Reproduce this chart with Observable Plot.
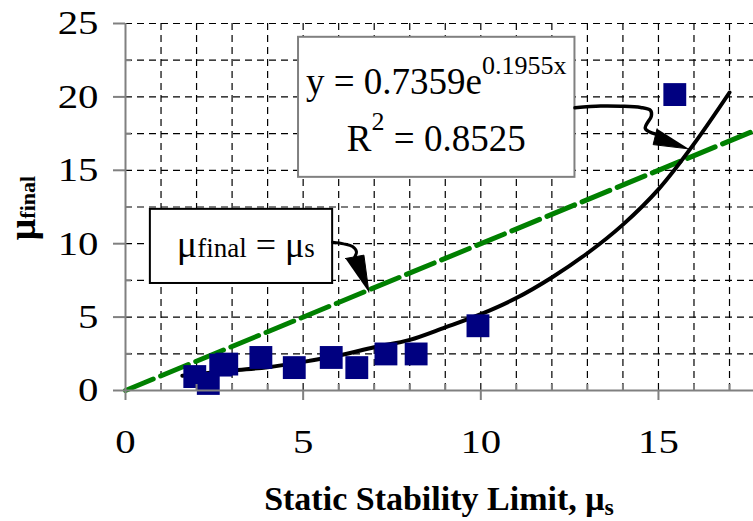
<!DOCTYPE html>
<html><head><meta charset="utf-8">
<script src="https://cdn.jsdelivr.net/npm/d3@7"></script>
<script src="https://cdn.jsdelivr.net/npm/@observablehq/plot@0.6"></script>
<style>
body{margin:0;background:#fff;}
#chart svg{display:block;background:#fff;}
</style></head><body><div id="chart"></div>
<script>
// ---- data ----
const pointsX = [1.95, 2.33, 2.68, 2.85, 3.81, 4.75, 5.79, 6.51, 7.33, 8.18, 9.92, 15.46];
const pointsY = [0.95, 0.48, 1.73, 1.80, 2.25, 1.56, 2.25, 1.56, 2.49, 2.49, 4.41, 20.16];
const trendX = [1.6, 2, 3, 4, 5, 6, 7, 8, 9, 10, 11, 12, 13, 14, 15, 16, 17];
const trendY = [1.0, 1.1, 1.36, 1.59, 1.95, 2.38, 2.95, 3.45, 4.3, 5.2, 6.3, 7.7, 9.35, 11.3, 13.7, 16.8, 20.3];
const identityX = [0, 17.68];
const identityY = [0, 17.68];
const xMajor = [0, 5, 10, 15];
const xMinor = [1, 2, 3, 4, 6, 7, 8, 9, 11, 12, 13, 14, 16, 17];
const xGrid = [1, 2, 3, 4, 5, 6, 7, 8, 9, 10, 11, 12, 13, 14, 15, 16, 17];
const yMajor = [0, 5, 10, 15, 20, 25];
const yMinor = [2.5, 7.5, 12.5, 17.5, 22.5];
const yGrid = [2.5, 5, 7.5, 10, 12.5, 15, 17.5, 20, 22.5, 25];
const xDomain = [0, 17.675];
const yDomain = [0, 25];

// annotations (data units)
const eqBox = {x1: 4.87, x2: 12.65, y1: 14.52, y2: 24.06};
const idBox = {x1: 0.70, x2: 5.83, y1: 7.29, y2: 12.34};
const eqLine1 = "y = 0.7359e", eqSup = "0.1955x";
const eqLine2a = "R", eqLine2sup = "2", eqLine2b = " = 0.8525";
const eqTextX = 8.76, eqTextY1 = 20.16, eqTextY2 = 16.28;
const idTextX = 3.40, idTextY = 9.06;
const arrow1X = [12.65, 13.37, 13.93, 14.50, 14.78, 14.80, 14.63, 14.95];
const arrow1Y = [19.26, 19.38, 19.37, 19.28, 19.07, 18.70, 17.85, 17.45];
const head1X = [14.96, 14.85, 15.85];
const head1Y = [17.83, 16.75, 16.46];
const arrow2X = [5.83, 6.14, 6.39, 6.50, 6.45];
const arrow2Y = [10.10, 9.99, 9.81, 9.45, 9.10];
const head2X = [6.19, 6.71, 6.85];
const head2Y = [8.99, 9.22, 6.70];

const serif = "'Liberation Serif','Times New Roman',serif";
const zip = (xs, ys) => xs.map((x, i) => ({x, y: ys[i]}));

const axisColor = "#808080";
const chart = Plot.plot({
  width: 753, height: 521,
  marginLeft: 125, marginRight: 0, marginTop: 23, marginBottom: 131,
  x: {domain: xDomain},
  y: {domain: yDomain},
  style: {fontFamily: serif, background: "white", color: "black"},
  marks: [
    Plot.gridX(xGrid, {stroke: "#000", strokeOpacity: 1, strokeWidth: 1.2, strokeDasharray: "7,5"}),
    Plot.gridY(yGrid, {stroke: "#000", strokeOpacity: 1, strokeWidth: 1.2, strokeDasharray: "7,5"}),
    Plot.line(zip(identityX, identityY), {x: "x", y: "y", stroke: "#008000", strokeWidth: 5, strokeDasharray: "30,8"}),
    Plot.line(zip(trendX, trendY), {x: "x", y: "y", stroke: "black", strokeWidth: 4, curve: "catmull-rom"}),
    Plot.dot(zip(pointsX, pointsY), {x: "x", y: "y", symbol: "square", r: 12.9, fill: "#000080", stroke: null}),
    Plot.rect([eqBox], {x1: "x1", x2: "x2", y1: "y1", y2: "y2", fill: "white", stroke: "#808080", strokeWidth: 2}),
    Plot.rect([idBox], {x1: "x1", x2: "x2", y1: "y1", y2: "y2", fill: "white", stroke: "black", strokeWidth: 2}),
    Plot.line(zip(arrow1X, arrow1Y), {x: "x", y: "y", stroke: "black", strokeWidth: 3.5, curve: "catmull-rom"}),
    Plot.line(zip(head1X, head1Y), {x: "x", y: "y", fill: "black", stroke: "black", strokeWidth: 1}),
    Plot.line(zip(arrow2X, arrow2Y), {x: "x", y: "y", stroke: "black", strokeWidth: 3, curve: "catmull-rom"}),
    Plot.line(zip(head2X, head2Y), {x: "x", y: "y", fill: "black", stroke: "black", strokeWidth: 1}),
    Plot.ruleX([0], {stroke: axisColor, strokeWidth: 2}),
    Plot.ruleY([0], {stroke: axisColor, strokeWidth: 2}),
    Plot.axisX(xMajor, {tickSize: 10, tickPadding: 28, fontSize: 34, stroke: axisColor, strokeWidth: 2, fill: "black", label: null}),
    Plot.axisX(xMinor, {tickSize: 6, dy: -6, tickFormat: () => "", stroke: axisColor, strokeWidth: 2, label: null}),
    Plot.axisY(yMajor, {tickSize: 12, tickPadding: 15, fontSize: 34, stroke: axisColor, strokeWidth: 2, fill: "black", label: null}),
    Plot.axisY(yMinor, {tickSize: 6, dx: 6, tickFormat: () => "", stroke: axisColor, strokeWidth: 2, label: null})
  ]
});
document.getElementById("chart").appendChild(chart);

const svg = d3.select(chart);
const sx = chart.scale("x"), sy = chart.scale("y");

// widen tick labels like the reference
svg.selectAll('g[aria-label="x-axis tick label"] text, g[aria-label="y-axis tick label"] text').each(function() {
  const L = this.getComputedTextLength();
  if (L > 0) { this.setAttribute("textLength", L * 1.2); this.setAttribute("lengthAdjust", "spacingAndGlyphs"); }
});

function rich(x, y, anchor, parts, transform) {
  const t = svg.append("text").attr("x", x).attr("y", y).attr("text-anchor", anchor)
    .attr("font-family", serif).attr("fill", "black");
  if (transform) t.attr("transform", transform).attr("x", 0).attr("y", 0);
  parts.forEach(p => {
    const s = t.append("tspan").text(p.text).attr("font-size", p.size);
    if (p.dy) s.attr("dy", p.dy);
    if (p.weight) s.attr("font-weight", p.weight);
  });
  return t;
}

// equation box text
rich(sx.apply(eqTextX), sy.apply(eqTextY1), "middle", [
  {text: eqLine1, size: 37}, {text: eqSup, size: 26, dy: -20}
]);
rich(sx.apply(eqTextX), sy.apply(eqTextY2), "middle", [
  {text: eqLine2a, size: 37}, {text: eqLine2sup, size: 26, dy: -21}, {text: eqLine2b, size: 37, dy: 21}
]);
// identity box text
rich(sx.apply(idTextX), sy.apply(idTextY), "middle", [
  {text: "\u03bc", size: 38}, {text: "final", size: 27}, {text: " = \u03bc", size: 36}, {text: "s", size: 27}
]);
// x-axis title
const xMid = (sx.apply(xDomain[0]) + sx.apply(xDomain[1])) / 2;
rich(xMid, 510, "middle", [
  {text: "Static Stability Limit, \u03bc", size: 34, weight: "bold"}, {text: "s", size: 24, weight: "bold", dy: 5}
]);
// y-axis title
const yMid = 208;
rich(0, 0, "middle", [
  {text: "\u03bc", size: 38, weight: "bold"}, {text: "final", size: 22, weight: "bold"}
], `translate(35,${yMid}) rotate(-90)`);
</script></body></html>
